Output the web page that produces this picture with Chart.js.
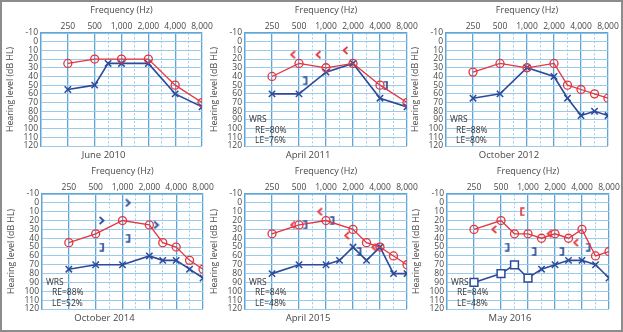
<!DOCTYPE html>
<html>
<head>
<meta charset="utf-8">
<script src="https://cdn.jsdelivr.net/npm/chart.js@4/dist/chart.umd.min.js"></script>
<style>
  body { margin: 0; background: #fff; }
  #frame { position: absolute; left: 0; top: 0; width: 619px; height: 328px; border: 2px solid #8c8c8c; }
  canvas { position: absolute; }
</style>
</head>
<body>
<div id="frame"></div>
<script>
// octave position of each test frequency (125 Hz = 0); half octaves sit between the lines
const freqPos = { 250: 1, 500: 2, 750: 2.5, 1000: 3, 1500: 3.5, 2000: 4, 3000: 4.5, 4000: 5, 6000: 5.5, 8000: 6 };
const freqTicks = [0, 1, 2, 2.5, 3, 3.5, 4, 4.5, 5, 5.5, 6];
const freqTickLabels = ["", "250", "500", "1,000", "2,000", "4,000", "8,000"];
const levelTicks = [-10, 0, 10, 20, 30, 40, 50, 60, 70, 80, 90, 100, 110, 120];

const panelTitles = ["June 2010", "April 2011", "October 2012", "October 2014", "April 2015", "May 2016"];

// right ear air conduction (O)
const reFreqs = [
  [250, 500, 1000, 2000, 4000, 8000],
  [250, 500, 1000, 2000, 4000, 8000],
  [250, 500, 1000, 2000, 3000, 4000, 6000, 8000],
  [250, 500, 1000, 2000, 3000, 4000, 6000, 8000],
  [250, 500, 1000, 2000, 3000, 4000, 6000, 8000],
  [250, 500, 750, 1000, 1500, 2000, 3000, 4000, 6000, 8000]
];
const reLevels = [
  [25, 20, 20, 20, 50, 70],
  [40, 25, 30, 25, 50, 70],
  [35, 25, 30, 25, 50, 55, 60, 65],
  [45, 35, 20, 25, 45, 50, 65, 75],
  [35, 25, 20, 30, 45, 50, 60, 70],
  [30, 20, 35, 35, 40, 35, 40, 30, 60, 55]
];

// left ear air conduction (X, masked = square)
const leFreqs = [
  [250, 500, 750, 1000, 2000, 4000, 8000],
  [250, 500, 1000, 2000, 4000, 8000],
  [250, 500, 1000, 2000, 3000, 4000, 6000, 8000],
  [250, 500, 1000, 2000, 3000, 4000, 6000, 8000],
  [250, 500, 1000, 1500, 2000, 3000, 4000, 6000, 8000],
  [250, 500, 750, 1000, 1500, 2000, 3000, 4000, 6000, 8000]
];
const leLevels = [
  [55, 50, 25, 25, 25, 60, 75],
  [60, 60, 35, 25, 65, 75],
  [65, 60, 30, 40, 65, 85, 80, 85],
  [75, 70, 70, 60, 65, 65, 75, 85],
  [80, 70, 70, 65, 50, 65, 50, 80, 80],
  [90, 80, 70, 85, 75, 70, 65, 65, 70, 85]
];
const leMaskedFreqs = [[], [], [], [], [], [250, 500, 750, 1000]];

// bone conduction symbols, x given in octave positions
const reBoneX = [[], [1.78, 2.72, 3.72], [], [], [1.78, 2.78, 3.78, 4.78], [1.75, 3.8, 4.78]];
const reBoneY = [[], [15, 15, 10], [], [], [25, 10, 37, 50], [30, 35, 45]];
const reMaskedBoneX = [[], [], [], [], [], [2.8]];
const reMaskedBoneY = [[], [], [], [], [], [10]];
const leBoneX = [[], [], [], [2.22, 3.2, 4.25], [], []];
const leBoneY = [[], [], [], [20, 0, 25], [], []];
const leMaskedBoneX = [[], [2.22, 5.2], [], [2.22, 3.2], [2.22, 3.22, 4.22], [2.22, 3.22, 4.25, 5.22]];
const leMaskedBoneY = [[], [45, 50], [], [50, 40], [25, 20, 55], [50, 55, 55, 50]];

// word recognition scores
const wrsRE = [null, 80, 88, 88, 84, 84];
const wrsLE = [null, 76, 80, 52, 48, 48];

// plot area of each panel on the page: left, top, right, bottom
const plotBoxes = [
  [41, 33, 202, 146], [245, 33, 407, 146], [446, 33, 608, 146],
  [42, 194, 203, 309], [245, 194, 407, 309], [447, 194, 609, 309]
];

const FONT = "'Open Sans', sans-serif";
const TEXT = "#484848";
const RED = "#e5343d";
const BLUE = "#2c4a9a";
const GRID = "#9ccbea";
const GRID_MAJOR = "#5ea6d8";

// small bone conduction symbols used as point styles
function glyph(kind, color) {
  const c = document.createElement("canvas");
  c.width = 7; c.height = 9;
  const g = c.getContext("2d");
  g.strokeStyle = color;
  g.lineWidth = 1.7;
  g.beginPath();
  if (kind === "<") { g.moveTo(5.5, 1); g.lineTo(1.5, 4.5); g.lineTo(5.5, 8); }
  if (kind === ">") { g.moveTo(1.5, 1); g.lineTo(5.5, 4.5); g.lineTo(1.5, 8); }
  if (kind === "[") { g.moveTo(5.5, 1); g.lineTo(2, 1); g.lineTo(2, 8); g.lineTo(5.5, 8); }
  if (kind === "]") { g.moveTo(1.5, 1); g.lineTo(5, 1); g.lineTo(5, 8); g.lineTo(1.5, 8); }
  g.stroke();
  return c;
}

const wrsText = {
  id: "wrsText",
  afterDatasetsDraw(chart, args, opts) {
    if (opts.re == null) return;
    const { ctx, chartArea, scales } = chart;
    ctx.save();
    ctx.font = "8.5px " + FONT;
    ctx.fillStyle = "#333";
    ctx.textBaseline = "middle";
    ctx.fillText("WRS", chartArea.left + 4, scales.y.getPixelForValue(90));
    ctx.fillText("RE=" + opts.re + "%", chartArea.left + 10, scales.y.getPixelForValue(102));
    ctx.fillText("LE=" + opts.le + "%", chartArea.left + 10, scales.y.getPixelForValue(114));
    ctx.restore();
  }
};

function points(xs, ys) {
  return xs.map((x, k) => ({ x: x, y: ys[k] }));
}

function makePanel(i) {
  const [L, T, R, B] = plotBoxes[i];
  const x0 = L - 36, y0 = T - 33;
  const canvas = document.createElement("canvas");
  canvas.width = 36 + (R - L) + 14;
  canvas.height = 33 + (B - T) + 19;
  canvas.style.left = x0 + "px";
  canvas.style.top = y0 + "px";
  document.body.appendChild(canvas);

  const masked = leMaskedFreqs[i];
  const datasets = [
    {
      data: points(reFreqs[i].map(f => freqPos[f]), reLevels[i]),
      showLine: true, borderColor: RED, borderWidth: 1.3,
      pointStyle: "circle", pointRadius: 4, pointBorderWidth: 1.3,
      pointBorderColor: RED, pointBackgroundColor: "rgba(0,0,0,0)"
    },
    {
      data: points(leFreqs[i].map(f => freqPos[f]), leLevels[i]),
      showLine: true, borderColor: BLUE, borderWidth: 1.6,
      pointStyle: leFreqs[i].map(f => masked.includes(f) ? "rect" : "crossRot"),
      pointRadius: leFreqs[i].map(f => masked.includes(f) ? 5.5 : 4.5),
      pointBorderWidth: 1.5, pointBorderColor: BLUE, pointBackgroundColor: "#fff"
    },
    { data: points(reBoneX[i], reBoneY[i]), pointStyle: glyph("<", RED) },
    { data: points(reMaskedBoneX[i], reMaskedBoneY[i]), pointStyle: glyph("[", RED) },
    { data: points(leBoneX[i], leBoneY[i]), pointStyle: glyph(">", BLUE) },
    { data: points(leMaskedBoneX[i], leMaskedBoneY[i]), pointStyle: glyph("]", BLUE) }
  ];

  new Chart(canvas, {
    type: "scatter",
    data: { datasets: datasets },
    options: {
      responsive: false,
      animation: false,
      devicePixelRatio: 1,
      layout: { padding: { left: 0, top: 0, right: 14, bottom: 0 } },
      elements: { line: { tension: 0 } },
      scales: {
        x: {
          type: "linear", position: "top", min: 0, max: 6,
          afterBuildTicks: s => { s.ticks = freqTicks.map(v => ({ value: v })); },
          afterFit: s => { s.height = 33; },
          ticks: {
            autoSkip: false, maxRotation: 0, padding: 1, color: TEXT,
            font: { family: FONT, size: 8.5 },
            callback: v => Number.isInteger(v) ? freqTickLabels[v] : ""
          },
          grid: {
            drawTicks: false,
            color: c => (c.tick && !Number.isInteger(c.tick.value)) ? GRID : GRID_MAJOR,
            lineWidth: c => (c.tick && !Number.isInteger(c.tick.value)) ? 1 : 1.3
          },
          border: {
            color: GRID_MAJOR, width: 1.3,
            dash: c => (c.tick && !Number.isInteger(c.tick.value)) ? [2, 2] : []
          },
          title: {
            display: true, text: "Frequency (Hz)", color: TEXT,
            font: { family: FONT, size: 9 }, padding: { top: 5, bottom: 0 }
          }
        },
        y: {
          type: "linear", reverse: true, min: -10, max: 120,
          afterBuildTicks: s => { s.ticks = levelTicks.map(v => ({ value: v })); },
          afterFit: s => { s.width = 36; },
          ticks: { autoSkip: false, padding: 3, color: TEXT, font: { family: FONT, size: 8.5 } },
          grid: { drawTicks: false, color: GRID, lineWidth: 1 },
          border: { color: GRID_MAJOR, width: 1.3 },
          title: {
            display: true, text: "Hearing level (dB HL)", color: TEXT,
            font: { family: FONT, size: 8.8 }, padding: { top: 0, bottom: 0 }
          }
        }
      },
      plugins: {
        legend: { display: false },
        tooltip: { enabled: false },
        title: {
          display: true, position: "bottom", text: panelTitles[i], color: TEXT,
          font: { family: FONT, size: 9.5, weight: "normal" }, padding: { top: 4, bottom: 3.6 }
        },
        wrsText: { re: wrsRE[i], le: wrsLE[i] }
      }
    },
    plugins: [wrsText]
  });
}

for (let i = 0; i < 6; i++) makePanel(i);
</script>
</body>
</html>
